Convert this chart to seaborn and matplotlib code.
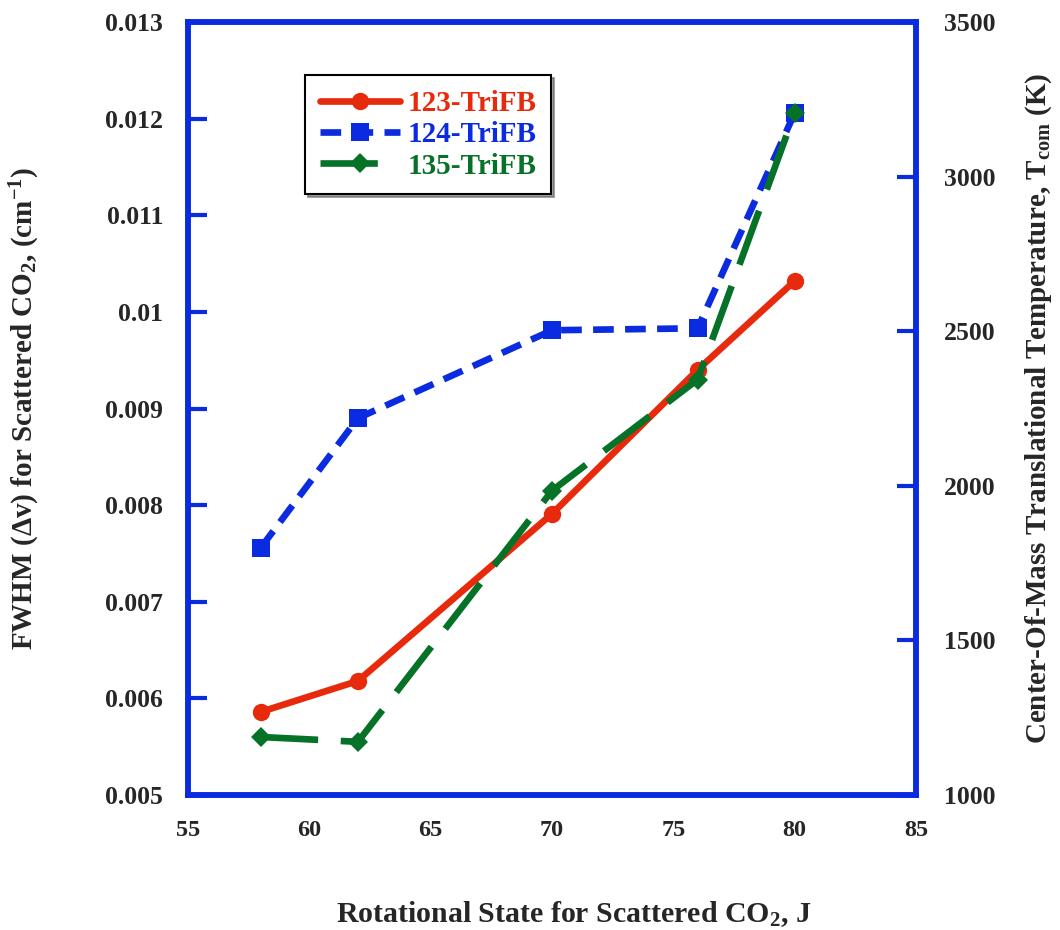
import matplotlib
matplotlib.use("Agg")
import matplotlib.pyplot as plt
import seaborn as sns
import pandas as pd

J = [58, 62, 70, 76, 80]
fwhm_123 = [0.00586, 0.00618, 0.00791, 0.00940, 0.01032]
fwhm_124 = [0.00756, 0.00890, 0.00981, 0.00983, 0.01206]
fwhm_135 = [0.00560, 0.00555, 0.00815, 0.00930, 0.01206]
series_names = ["123-TriFB", "124-TriFB", "135-TriFB"]
x_ticks = [55, 60, 65, 70, 75, 80, 85]
y_ticks = [0.005, 0.006, 0.007, 0.008, 0.009, 0.01, 0.011, 0.012, 0.013]
y_tick_labels = ["0.005", "0.006", "0.007", "0.008", "0.009", "0.01", "0.011", "0.012", "0.013"]
t_ticks = [1000, 1500, 2000, 2500, 3000, 3500]

sns.set_theme(style="white")
plt.rcParams['font.family'] = ['Liberation Serif', 'DejaVu Serif']
plt.rcParams['font.weight'] = 'bold'
plt.rcParams['mathtext.default'] = 'regular'

fig = plt.figure(figsize=(10.6, 9.3), dpi=100)
ax = fig.add_axes([0.1774, 0.1452, 0.6868, 0.8311])

df = pd.DataFrame({"J": J * 3,
                   "FWHM": fwhm_123 + fwhm_124 + fwhm_135,
                   "series": sum([[s] * len(J) for s in series_names], [])})

blue = "#0a2be0"
colors = {"123-TriFB": "#e82a0c", "124-TriFB": blue, "135-TriFB": "#067228"}
styles = {"123-TriFB": dict(marker="o", markersize=12.5, dashes=None),
          "124-TriFB": dict(marker="s", markersize=13, dashes=(3.1, 1.7)),
          "135-TriFB": dict(marker="D", markersize=10, dashes=(8.6, 3.4))}

for s in series_names:
    sub = df[df.series == s]
    st = styles[s]
    sns.lineplot(x="J", y="FWHM", data=sub, ax=ax, color=colors[s], linewidth=4.8,
                 marker=st["marker"], markersize=st["markersize"], markeredgewidth=0,
                 label=s)
    ln = ax.get_lines()[-1]
    if st["dashes"] is not None:
        ln.set_dashes(st["dashes"])

ax.set_xlim(55, 85)
ax.set_ylim(0.005, 0.013)
ax.set_xticks(x_ticks)
ax.set_yticks(y_ticks)
ax.set_yticklabels(y_tick_labels)
ax.tick_params(axis='both', direction='in', length=14, width=3, color=blue)
ax.tick_params(axis='y', labelsize=18.5, pad=18)
ax.tick_params(axis='x', labelsize=17.5, pad=18)
for lab in ax.get_xticklabels() + ax.get_yticklabels():
    lab.set_fontweight('bold')
for sp in ax.spines.values():
    sp.set_color(blue)
    sp.set_linewidth(4)

ax.set_xlabel("Rotational State for Scattered CO$_2$, J", fontsize=21.5,
              fontweight='bold')
ax.xaxis.set_label_coords(0.53, -0.135)
ax.set_ylabel("FWHM ($\\Delta$v) for Scattered CO$_2$, (cm$^{-1}$)", fontsize=21,
              fontweight='bold')
ax.yaxis.set_label_coords(-0.201, 0.5)

ax2 = ax.twinx()
ax2.set_ylim(1000, 3500)
ax2.set_yticks(t_ticks)
ax2.tick_params(axis='y', direction='in', length=14, width=3, color=blue,
                labelsize=18.5, pad=20)
for lab in ax2.get_yticklabels():
    lab.set_fontweight('bold')
for sp in ax2.spines.values():
    sp.set_color(blue)
    sp.set_linewidth(4)
ax2.set_ylabel("Center-Of-Mass Translational Temperature, T$_{com}$ (K)", fontsize=21,
               fontweight='bold')
ax2.yaxis.set_label_coords(1.148, 0.5)
ax2.grid(False)
ax.grid(False)

leg = ax.legend(loc='upper left', bbox_to_anchor=(0.161, 0.931), frameon=True,
                shadow=True, fancybox=False, fontsize=21, handlelength=2.75,
                borderpad=0.5, labelspacing=0.15, handletextpad=0.25,
                borderaxespad=0)
leg.get_frame().set_edgecolor('black')
leg.get_frame().set_linewidth(1.5)
for txt, s in zip(leg.get_texts(), series_names):
    txt.set_color(colors[s])
    txt.set_fontweight('bold')

fig.savefig("out.png", dpi=100)
